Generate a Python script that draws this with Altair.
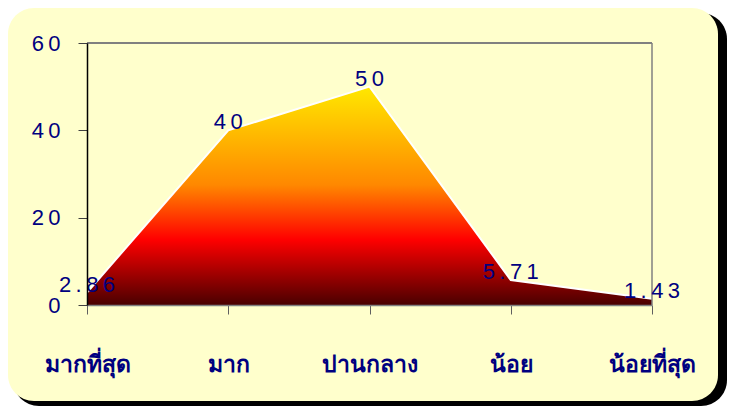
import altair as alt
import pandas as pd

categories = ["มากที่สุด", "มาก", "ปานกลาง", "น้อย", "น้อยที่สุด"]
values = [2.86, 40, 50, 5.71, 1.43]
y_ticks = [0, 20, 40, 60]

df = pd.DataFrame({"cat": categories, "val": values})

W, H = 565, 262
PAD_L, PAD_T = 79, 35
CW, CH = 720, 398

navy = "#000080"
spaced = "join(split({}, ''), '\u2009')"

x_scale = alt.Scale(type="point", padding=0)

x_enc = alt.X("cat:N", sort=categories, scale=x_scale,
              axis=alt.Axis(title=None, labelAngle=0, labelFont="Tahoma, sans-serif",
                            labelFontSize=23, labelFontWeight="bold", labelColor=navy,
                            labelPadding=39, tickSize=9, tickColor="#606060",
                            domainColor="#808080", domainWidth=1.5, grid=False,
                            zindex=1, labelBaseline="top"))
y_enc = alt.Y("val:Q", scale=alt.Scale(domain=[0, 60], nice=False),
              axis=alt.Axis(title=None, values=y_ticks, labelFont="Arial, Liberation Sans",
                            labelFontSize=22, labelColor=navy, labelPadding=18,
                            labelExpr=spaced.format("datum.label"),
                            tickSize=9, tickColor="#404040", domainColor="#000000",
                            domainWidth=1.5, grid=False, zindex=1))
x_plain = alt.X("cat:N", sort=categories, scale=x_scale)
y_plain = alt.Y("val:Q")

base = alt.Chart(df)

one = "datum.cat == 'มาก'"

shadow = base.mark_rect(color="#000000", cornerRadius=26).encode(
    x=alt.value(-74), x2=alt.value(CW - PAD_L - 1),
    y=alt.value(-30), y2=alt.value(CH - PAD_T)
).transform_filter(one)

panel = base.mark_rect(color="#FFFFCC", cornerRadius=26).encode(
    x=alt.value(-79), x2=alt.value(CW - PAD_L - 10),
    y=alt.value(-35), y2=alt.value(CH - PAD_T - 5)
).transform_filter(one)

grad = alt.Gradient(
    gradient="linear",
    stops=[
        alt.GradientStop(color="#FFE800", offset=0),
        alt.GradientStop(color="#FF8800", offset=0.45),
        alt.GradientStop(color="#FF0000", offset=0.70),
        alt.GradientStop(color="#4A0000", offset=1),
    ],
    x1=0, x2=0, y1=0, y2=1,
)

area = base.mark_area(color=grad).encode(x=x_enc, y=y_enc)
line = base.mark_line(color="white", strokeWidth=2).encode(x=x_plain, y=y_plain)

top_rule = base.mark_rule(color="#808080", strokeWidth=2).encode(
    x=alt.value(0), x2=alt.value(W), y=alt.value(0)
).transform_filter(one)
right_rule = base.mark_rule(color="#808080", strokeWidth=1.5).encode(
    x=alt.value(W), y=alt.value(0), y2=alt.value(H)
).transform_filter(one)

labels = base.transform_calculate(
    lbl=spaced.format("format(datum.val, '.2~f')")
).mark_text(font="Arial, Liberation Sans", fontSize=22, color=navy,
            baseline="alphabetic", align="center", dy=-1).encode(
    x=x_plain, y=y_plain, text="lbl:N")

chart = alt.layer(shadow, panel, area, line, top_rule, right_rule, labels).properties(
    width=W, height=H,
    autosize=alt.AutoSizeParams(type="none"),
    padding={"left": PAD_L, "top": PAD_T, "right": CW - PAD_L - W, "bottom": CH - PAD_T - H},
    background="white",
).configure_view(stroke=None)

chart.save("out.html", embed_options={"renderer": "svg", "actions": False})
